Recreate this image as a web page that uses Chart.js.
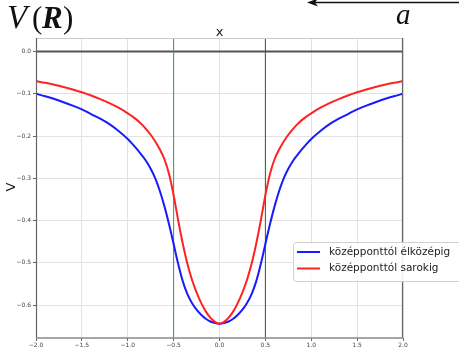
<!DOCTYPE html>
<html><head><meta charset="utf-8">
<script src="https://cdn.jsdelivr.net/npm/chart.js@4/dist/chart.umd.min.js"></script>
<style>html,body{margin:0;padding:0;background:#fff;}#wrap{width:459px;height:348px;position:relative;}</style>
</head><body><div id="wrap"><canvas id="c" width="459" height="348"></canvas></div>
<script>
const xValues = [-2.0,-1.9,-1.8,-1.7,-1.6,-1.5,-1.4,-1.3,-1.2,-1.1,-1.0,-0.95,-0.9,-0.85,-0.8,-0.75,-0.7,-0.65,-0.6,-0.55,-0.5,-0.45,-0.4,-0.35,-0.3,-0.25,-0.2,-0.15,-0.1,-0.05,0,0.05,0.1,0.15,0.2,0.25,0.3,0.35,0.4,0.45,0.5,0.55,0.6,0.65,0.7,0.75,0.8,0.85,0.9,0.95,1.0,1.1,1.2,1.3,1.4,1.5,1.6,1.7,1.8,1.9,2.0];
const edgeCenterValues = [-0.100,-0.106,-0.1125,-0.120,-0.128,-0.137,-0.148,-0.159,-0.172,-0.188,-0.207,-0.2185,-0.231,-0.2445,-0.259,-0.2775,-0.300,-0.330,-0.3665,-0.409,-0.4555,-0.503,-0.544,-0.574,-0.595,-0.611,-0.623,-0.6325,-0.639,-0.6425,-0.644,-0.6425,-0.639,-0.6325,-0.623,-0.611,-0.595,-0.574,-0.544,-0.503,-0.4555,-0.409,-0.3665,-0.330,-0.300,-0.2775,-0.259,-0.2445,-0.231,-0.2185,-0.207,-0.188,-0.172,-0.159,-0.148,-0.137,-0.128,-0.120,-0.1125,-0.106,-0.100];
const cornerValues = [-0.070,-0.074,-0.0785,-0.0838,-0.0898,-0.0965,-0.104,-0.1125,-0.122,-0.133,-0.1462,-0.1535,-0.1618,-0.1718,-0.1835,-0.197,-0.213,-0.232,-0.255,-0.290,-0.340,-0.400,-0.455,-0.5025,-0.540,-0.570,-0.595,-0.615,-0.630,-0.640,-0.644,-0.640,-0.630,-0.615,-0.595,-0.570,-0.540,-0.5025,-0.455,-0.400,-0.340,-0.290,-0.255,-0.232,-0.213,-0.197,-0.1835,-0.1718,-0.1618,-0.1535,-0.1462,-0.133,-0.122,-0.1125,-0.104,-0.0965,-0.0898,-0.0838,-0.0785,-0.074,-0.070];
const seriesNames = ['középponttól élközépig','középponttól sarokig'];
const xTicks = [-2.0,-1.5,-1.0,-0.5,0.0,0.5,1.0,1.5,2.0];
const yTicks = [0.0,-0.1,-0.2,-0.3,-0.4,-0.5,-0.6];
const markerX = [-0.5, 0.5];
const xRange = [-2, 2];
const yRange = [-0.678, 0.032];

const pts = (ys) => xValues.map((x,i)=>({x:x,y:ys[i]}));
const fmt = v => (v<0?'\u2212':'') + Math.abs(v).toFixed(1);

const datasets = [
  {label:'zero', data:[{x:xRange[0],y:0},{x:xRange[1],y:0}], borderColor:'#555555', borderWidth:2, pointRadius:0, order:5},
  {label:'m1', data:[{x:markerX[0],y:yRange[0]},{x:markerX[0],y:yRange[1]}], borderColor:'#3f9a3f', borderWidth:1, pointRadius:0, order:4},
  {label:'m2', data:[{x:markerX[1],y:yRange[0]},{x:markerX[1],y:yRange[1]}], borderColor:'#1a6a1a', borderWidth:1, pointRadius:0, order:4},
  {label:seriesNames[0], data:pts(edgeCenterValues), borderColor:'#1a1aff', borderWidth:2, pointRadius:0, cubicInterpolationMode:'monotone', order:2},
  {label:seriesNames[1], data:pts(cornerValues), borderColor:'#ff2222', borderWidth:2, pointRadius:0, cubicInterpolationMode:'monotone', order:1}
];

const deco = {
  id:'deco',
  afterDraw(chart){
    const ctx = chart.ctx, a = chart.chartArea;
    ctx.save();
    // frame
    ctx.lineWidth = 1.2;
    ctx.strokeStyle = '#cccccc';
    ctx.beginPath(); ctx.moveTo(a.left, a.top+0.5); ctx.lineTo(a.right, a.top+0.5); ctx.stroke();
    ctx.strokeStyle = '#666666';
    ctx.beginPath(); ctx.moveTo(a.left+0.5, a.top); ctx.lineTo(a.left+0.5, a.bottom); ctx.stroke();
    ctx.beginPath(); ctx.moveTo(a.right-0.5, a.top); ctx.lineTo(a.right-0.5, a.bottom); ctx.stroke();
    ctx.strokeStyle = '#888888'; ctx.lineWidth = 1.5;
    ctx.beginPath(); ctx.moveTo(a.left, a.bottom); ctx.lineTo(a.right, a.bottom); ctx.stroke();
    // axis labels
    ctx.fillStyle = '#222';
    ctx.font = '13px "DejaVu Sans"';
    ctx.textAlign = 'center'; ctx.textBaseline = 'alphabetic';
    ctx.fillText('x', (a.left+a.right)/2, 36);
    ctx.save(); ctx.translate(15, 187); ctx.rotate(-Math.PI/2);
    ctx.fillText('V', 0, 0); ctx.restore();
    // title V(R)
    ctx.textAlign = 'left';
    ctx.fillStyle = '#111';
    ctx.font = 'italic 33px "Liberation Serif"'; ctx.fillText('V', 7, 28);
    ctx.font = '31px "Liberation Serif"'; ctx.fillText('(', 32, 28);
    ctx.font = 'italic bold 31px "Liberation Serif"'; ctx.fillText('R', 42, 28);
    ctx.font = '31px "Liberation Serif"'; ctx.fillText(')', 63, 28);
    ctx.font = 'italic 29px "Liberation Serif"'; ctx.fillText('a', 396, 24);
    // arrow
    ctx.strokeStyle = '#111'; ctx.lineWidth = 1.6;
    ctx.beginPath(); ctx.moveTo(312, 2.5); ctx.lineTo(459, 2.5); ctx.stroke();
    ctx.fillStyle = '#111';
    ctx.beginPath(); ctx.moveTo(307, 2.5); ctx.lineTo(318, -1.5); ctx.lineTo(315, 2.5); ctx.lineTo(318, 6.5); ctx.closePath(); ctx.fill();
    // legend
    const lx = 293, ly = 242, lw = 180, lh = 39;
    ctx.fillStyle = 'rgba(255,255,255,0.9)';
    ctx.strokeStyle = '#d0d0d0'; ctx.lineWidth = 1;
    ctx.beginPath();
    if (ctx.roundRect) ctx.roundRect(lx+0.5, ly+0.5, lw, lh, 3); else ctx.rect(lx+0.5, ly+0.5, lw, lh);
    ctx.fill(); ctx.stroke();
    ctx.font = '10.5px "DejaVu Sans"';
    ctx.textBaseline = 'middle';
    const items = [datasets[3], datasets[4]];
    items.forEach((d,i)=>{
      const yy = ly + 10 + i*16.5;
      ctx.strokeStyle = d.borderColor; ctx.lineWidth = 2;
      ctx.beginPath(); ctx.moveTo(297, yy); ctx.lineTo(320, yy); ctx.stroke();
      ctx.fillStyle = '#222';
      ctx.fillText(d.label, 329, yy);
    });
    ctx.restore();
  }
};

new Chart(document.getElementById('c'), {
  type:'line',
  data:{datasets:datasets},
  options:{
    responsive:false, animation:false, devicePixelRatio:1,
    layout:{padding:{top:38, right:56, left:0, bottom:0}},
    plugins:{legend:{display:false}, tooltip:{enabled:false}},
    scales:{
      x:{type:'linear', min:xRange[0], max:xRange[1],
        afterBuildTicks: s => { s.ticks = xTicks.map(v=>({value:v})); },
        afterFit: s => { s.height = 10; },
        ticks:{font:{size:6, family:'DejaVu Sans'}, color:'#444', padding:1, maxRotation:0, callback:v=>fmt(v)},
        grid:{color:'#e2e2e2', lineWidth:1, tickLength:3, tickColor:'#666'},
        border:{display:false}
      },
      y:{type:'linear', min:yRange[0], max:yRange[1],
        afterBuildTicks: s => { s.ticks = yTicks.map(v=>({value:v})); },
        afterFit: s => { s.width = 36; },
        ticks:{font:{size:6, family:'DejaVu Sans'}, color:'#444', padding:2, callback:v=>fmt(v)},
        grid:{color:'#e2e2e2', lineWidth:1, tickLength:3, tickColor:'#666'},
        border:{display:false}
      }
    }
  },
  plugins:[deco]
});
</script></body></html>
